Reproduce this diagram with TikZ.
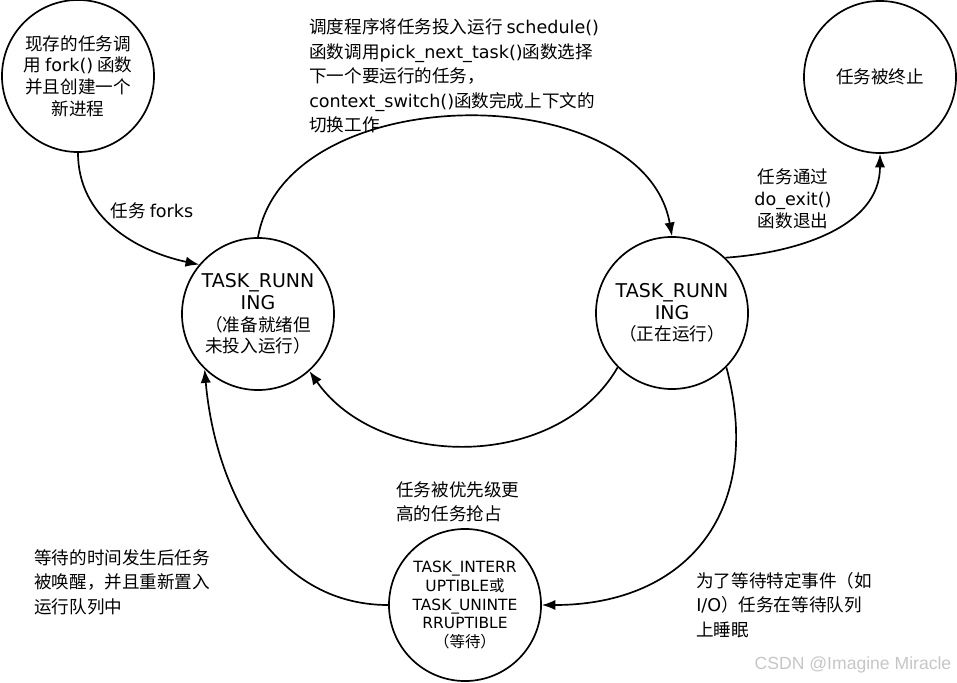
\documentclass[tikz,border=0pt]{standalone}
\usepackage{fontspec}
\setmainfont{Noto Sans CJK SC}
\newfontfamily\latfont{DejaVu Sans}
\newfontfamily\wmfont{Liberation Sans}
\newcommand{\en}[1]{{\latfont #1}}
\usetikzlibrary{arrows.meta, positioning}

\begin{document}
\begin{tikzpicture}[x=0.025cm, y=-0.025cm,
  state/.style={draw, circle, line width=1.2pt, minimum size=3.8cm, inner sep=0pt, align=center,
                font=\fontsize{12.5pt}{15.5pt}\selectfont},
  lbl/.style={inner sep=0pt, align=left, font=\fontsize{12.5pt}{17.5pt}\selectfont},
  arrow/.style={-{Latex[length=3.4mm,width=2.6mm]}, line width=1.2pt}
]
\useasboundingbox (0,0) rectangle (957,682);

\node[state] (fork) at (78,76) {现存的任务调\\用 \en{fork()} 函数\\并且创建一个\\新进程};
\node[state] (term) at (880,77) {任务被终止};
\node[state] (runL) at (258,314) {\en{\fontsize{13.5pt}{15.5pt}\selectfont TASK\_RUNN}\\\en{\fontsize{13.5pt}{15.5pt}\selectfont ING}\\（准备就绪但\\未投入运行）};
\node[state] (runR) at (672,313) {\en{\fontsize{13.5pt}{15.5pt}\selectfont TASK\_RUNN}\\\en{\fontsize{13.5pt}{15.5pt}\selectfont ING}\\（正在运行）};
\node[state, font=\fontsize{11pt}{13.5pt}\selectfont] (wait) at (465,605) {\en{TASK\_INTERR}\\\en{UPTIBLE}或\\\en{TASK\_UNINTE}\\\en{RRUPTIBLE}\\（等待）};

\node[lbl] (lfork) at (152,211) {任务 \en{forks}};
\node[lbl, anchor=west] (lsched) at (309,76) {调度程序将任务投入运行 \en{schedule()}\\函数调用\en{pick\_next\_task()}函数选择\\下一个要运行的任务，\\\en{context\_switch()}函数完成上下文的\\切换工作};
\node[lbl, align=center, font=\fontsize{12.5pt}{15.5pt}\selectfont] (lexit) at (793,199) {任务通过\\\en{do\_exit()}\\函数退出};
\node[lbl, anchor=west] (lpre) at (396,502) {任务被优先级更\\高的任务抢占};
\node[lbl, anchor=west] (lwake) at (34,582) {等待的时间发生后任务\\被唤醒，并且重新置入\\运行队列中};
\node[lbl, anchor=west] (lsleep) at (696,605) {为了等待特定事件（如\\\en{I/O}）任务在等待队列\\上睡眠};
\node[inner sep=0pt, text=gray!45, font=\wmfont\fontsize{12.5pt}{14pt}\selectfont] (wm) at (853,665) {CSDN @Imagine Miracle};

\draw[arrow] (fork.south) to[out=-90, in=168] (runL.140);
\draw[arrow] (runL.north) to[out=80, in=100] (runR.north);
\draw[arrow] (runR.46) to[out=4, in=-90] (term.south);
\draw[arrow] (runR.225) to[out=-120, in=-55] (runL.-48);
\draw[arrow] (runR.-45) to[out=-75, in=0, looseness=1.25] (wait.east);
\draw[arrow] (wait.west) to[out=180, in=-85] (runL.226);
\end{tikzpicture}
\end{document}
